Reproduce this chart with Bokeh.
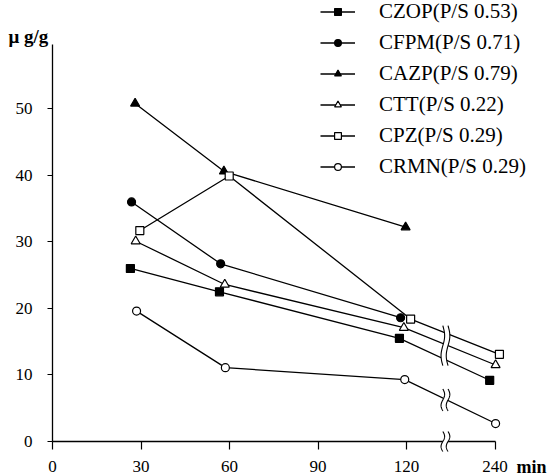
import numpy as np
from bokeh.plotting import figure
from bokeh.models import Range1d, FixedTicker, Legend, LegendItem, Label
from bokeh.embed import file_html
from bokeh.resources import INLINE

# ---------------- data ----------------
# x positions on the drawn time axis (the 240-min column sits at 150, after the axis break)
x_tick_pos = [0, 30, 60, 90, 120, 150]
x_tick_labels = ["0", "30", "60", "90", "120", "240"]
y_tick_pos = [0, 10, 20, 30, 40, 50]

czop_x = [26.4, 56.6, 117.6, 148.2]
czop_y = [26.0, 22.5, 15.5, 9.2]

cfpm_x = [26.8, 57.0, 118.0]
cfpm_y = [36.0, 26.7, 18.6]

cazp_x = [28.0, 58.1, 119.7]
cazp_y = [50.8, 40.6, 32.2]

ctt_x = [28.2, 58.4, 119.1, 150.2]
ctt_y = [30.1, 23.6, 17.1, 11.5]

cpz_x = [29.6, 59.9, 121.4, 151.5]
cpz_y = [31.7, 39.9, 18.4, 13.1]

crmn_x = [28.5, 58.6, 119.4, 150.2]
crmn_y = [19.6, 11.1, 9.3, 2.7]

series_names = ["CZOP(P/S 0.53)", "CFPM(P/S 0.71)", "CAZP(P/S 0.79)",
                "CTT(P/S 0.22)", "CPZ(P/S 0.29)", "CRMN(P/S 0.29)"]
y_unit = "μ g/g"
x_unit = "min"
y_axis_top = 59.7

# ---------------- layout ----------------
W, H = 554, 476
AX_X, AX_Y = 52, 441      # px (from left / from top) of the axis lines
PXX, PXY = 2.95, 6.654    # px per data unit

xr0 = -AX_X / PXX
xr1 = xr0 + W / PXX
yr0 = -(H - AX_Y) / PXY
yr1 = yr0 + H / PXY

FONT = "Liberation Serif"

p = figure(width=W, height=H, x_range=Range1d(xr0, xr1), y_range=Range1d(yr0, yr1),
           output_backend="svg", toolbar_location=None, title=None,
           min_border_left=0, min_border_right=0, min_border_top=0, min_border_bottom=0)
p.outline_line_color = None
p.grid.visible = False
p.background_fill_color = "white"
p.border_fill_color = "white"

p.xaxis.ticker = FixedTicker(ticks=x_tick_pos)
p.xaxis.major_label_overrides = {t: l for t, l in zip(x_tick_pos, x_tick_labels)}
p.yaxis.ticker = FixedTicker(ticks=y_tick_pos)
for ax in (p.xaxis, p.yaxis):
    ax.fixed_location = 0
    ax.axis_line_color = "black"
    ax.axis_line_width = 1.3
    ax.minor_tick_line_color = None
    ax.major_tick_line_color = "black"
    ax.major_tick_line_width = 1.2
    ax.major_tick_in = 0
    ax.major_label_text_font = FONT
    ax.major_label_text_font_size = "17px"
    ax.major_label_text_color = "black"
p.xaxis.bounds = (x_tick_pos[0], x_tick_pos[-1])
p.yaxis.bounds = (0, y_axis_top)
p.xaxis.major_tick_out = 8
p.xaxis.major_label_standoff = 11
p.yaxis.major_tick_out = 5
p.yaxis.major_label_standoff = 15

LW = 1.3
data = [
    (czop_x, czop_y, "square", "black", 8),
    (cfpm_x, cfpm_y, "circle", "black", 8),
    (cazp_x, cazp_y, "triangle", "black", 9),
    (ctt_x, ctt_y, "triangle", "white", 9),
    (cpz_x, cpz_y, "square", "white", 8),
    (crmn_x, crmn_y, "circle", "white", 8),
]

line_rs = []
for xs, ys, m, f, s in data:
    line_rs.append(p.line(xs, ys, line_color="black", line_width=LW))

# axis-break marks (pairs of wavy lines with a white gap), drawn above the axes
breaks = [(133.2, 17.4, 11.4), (133.2, 7.9, 4.6), (133.2, 1.5, -1.5)]
t = np.linspace(0, 1, 40)
gap = 2.6 / PXX
amp = 1.8 / PXX
pxs, pys, lxs, lys = [], [], [], []
for xc, ytop, ybot in breaks:
    yy = ytop + (ybot - ytop) * t
    wave = amp * np.sin(2 * np.pi * t)
    left = xc - gap + wave
    right = xc + gap + wave
    pxs.append(list(left) + list(right[::-1]))
    pys.append(list(yy) + list(yy[::-1]))
    lxs += [list(left), list(right)]
    lys += [list(yy), list(yy)]
p.patches(pxs, pys, fill_color="white", line_color=None, level="overlay")
p.multi_line(lxs, lys, line_color="black", line_width=1.1, level="overlay")

mark_rs = []
for xs, ys, m, f, s in data:
    mark_rs.append(p.scatter(xs, ys, marker=m, size=s, fill_color=f,
                             line_color="black", line_width=1.2))

items = [LegendItem(label=n, renderers=[lr, mr]) for n, lr, mr in zip(series_names, line_rs, mark_rs)]
ROW_H, SPACING = 24, 6
FIRST_ROW = 17
legend = Legend(items=items,
                location=(320, H - (FIRST_ROW + 5 * (ROW_H + SPACING) + ROW_H / 2)),
                padding=0, margin=0, spacing=SPACING,
                glyph_width=35, glyph_height=17, label_height=ROW_H, label_standoff=24,
                label_text_font=FONT, label_text_font_size="21px", label_text_color="black",
                border_line_color=None, background_fill_alpha=0)
p.add_layout(legend)

p.add_layout(Label(x=(8 - AX_X) / PXX, y=(AX_Y - 36) / PXY, text=y_unit, text_font=FONT,
                   text_font_size="19px", text_font_style="bold", text_baseline="alphabetic",
                   text_color="black"))
p.add_layout(Label(x=(516 - AX_X) / PXX, y=(AX_Y - 466) / PXY, text=x_unit, text_font=FONT,
                   text_font_size="18px", text_font_style="bold", text_baseline="alphabetic",
                   text_color="black"))

open("out.html", "w").write(file_html(p, INLINE))
